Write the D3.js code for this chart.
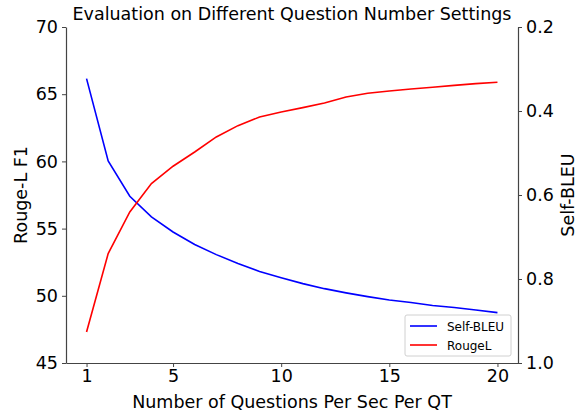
<!DOCTYPE html>
<html>
<head>
<meta charset="utf-8">
<script src="https://cdn.jsdelivr.net/npm/d3@7"></script>
<style>
  body { margin: 0; background: #fff; }
  text { font-family: "DejaVu Sans", sans-serif; fill: #000; }
</style>
</head>
<body>
<div id="chart"></div>
<script>
// Data
const questions = [1, 2, 3, 4, 5, 6, 7, 8, 9, 10, 11, 12, 13, 14, 15, 16, 17, 18, 19, 20];
const rougeL = [47.31, 53.14, 56.24, 58.35, 59.64, 60.70, 61.82, 62.66, 63.30, 63.68,
                64.00, 64.35, 64.79, 65.07, 65.24, 65.39, 65.52, 65.66, 65.79, 65.89];
const selfBleu = [0.323, 0.519, 0.603, 0.652, 0.688, 0.718, 0.742, 0.763, 0.782, 0.797,
                  0.811, 0.823, 0.833, 0.842, 0.850, 0.856, 0.863, 0.868, 0.874, 0.880];
const xTicks = [1, 5, 10, 15, 20];
const leftTicks = [45, 50, 55, 60, 65, 70];
const rightTicks = [0.2, 0.4, 0.6, 0.8, 1.0];

const svgWidth = 587, svgHeight = 414;
const margin = { top: 27, right: 69, bottom: 51, left: 66 };
const width = svgWidth - margin.left - margin.right;
const height = svgHeight - margin.top - margin.bottom;
const fontSize = '17.5px';

const svg = d3.select('#chart').append('svg')
    .attr('width', svgWidth)
    .attr('height', svgHeight);

const g = svg.append('g')
    .attr('transform', `translate(${margin.left},${margin.top})`);

// Scales (matplotlib-style 5% x margins)
const xScale = d3.scaleLinear().domain([0.05, 20.95]).range([0, width]);
const yLeft = d3.scaleLinear().domain([45, 70]).range([height, 0]);
const yRight = d3.scaleLinear().domain([0.2, 1.0]).range([0, height]);

// Lines
const blueLine = d3.line()
    .x((d, i) => xScale(questions[i]))
    .y(d => yRight(d));
const redLine = d3.line()
    .x((d, i) => xScale(questions[i]))
    .y(d => yLeft(d));

g.append('path').datum(selfBleu)
    .attr('d', blueLine)
    .attr('fill', 'none')
    .attr('stroke', '#0000ff')
    .attr('stroke-width', 1.6);

g.append('path').datum(rougeL)
    .attr('d', redLine)
    .attr('fill', 'none')
    .attr('stroke', '#ff0000')
    .attr('stroke-width', 1.6);

// Axes
function styleAxis(sel) {
    sel.selectAll('.domain').attr('stroke', '#444').attr('stroke-width', 1.2);
    sel.selectAll('.tick line').attr('stroke', '#444').attr('stroke-width', 1);
    sel.selectAll('text')
        .style('font-family', '"DejaVu Sans", sans-serif')
        .style('font-size', fontSize)
        .attr('fill', '#000');
}

g.append('g')
    .attr('transform', `translate(0,${height})`)
    .call(d3.axisBottom(xScale).tickValues(xTicks).tickSize(4).tickSizeOuter(0).tickPadding(3))
    .call(styleAxis);

g.append('g')
    .call(d3.axisLeft(yLeft).tickValues(leftTicks).tickSize(4).tickSizeOuter(0).tickPadding(4))
    .call(styleAxis);

g.append('g')
    .attr('transform', `translate(${width},0)`)
    .call(d3.axisRight(yRight).tickValues(rightTicks).tickFormat(d3.format('.1f'))
        .tickSize(4).tickSizeOuter(0).tickPadding(4))
    .call(styleAxis);

// Title and axis labels
svg.append('text')
    .attr('x', margin.left + width / 2)
    .attr('y', 20)
    .attr('text-anchor', 'middle')
    .style('font-size', fontSize)
    .text('Evaluation on Different Question Number Settings');

svg.append('text')
    .attr('x', margin.left + width / 2)
    .attr('y', 408)
    .attr('text-anchor', 'middle')
    .style('font-size', fontSize)
    .text('Number of Questions Per Sec Per QT');

svg.append('text')
    .attr('transform', `translate(27,${margin.top + height / 2}) rotate(-90)`)
    .attr('text-anchor', 'middle')
    .style('font-size', fontSize)
    .text('Rouge-L F1');

svg.append('text')
    .attr('transform', `translate(574,${margin.top + height / 2}) rotate(-90)`)
    .attr('text-anchor', 'middle')
    .style('font-size', fontSize)
    .text('Self-BLEU');

// Legend
const legend = svg.append('g').attr('transform', 'translate(405,315)');
legend.append('rect')
    .attr('width', 106).attr('height', 41)
    .attr('rx', 2)
    .attr('fill', '#fff').attr('fill-opacity', 0.8)
    .attr('stroke', '#d0d0d0');
const items = [{ name: 'Self-BLEU', color: '#0000ff' }, { name: 'RougeL', color: '#ff0000' }];
items.forEach((d, i) => {
    const yy = 11 + i * 19;
    legend.append('line')
        .attr('x1', 5).attr('x2', 32).attr('y1', yy).attr('y2', yy)
        .attr('stroke', d.color).attr('stroke-width', 1.6);
    legend.append('text')
        .attr('x', 42).attr('y', yy + 4.5)
        .style('font-size', '12px')
        .text(d.name);
});
</script>
</body>
</html>
